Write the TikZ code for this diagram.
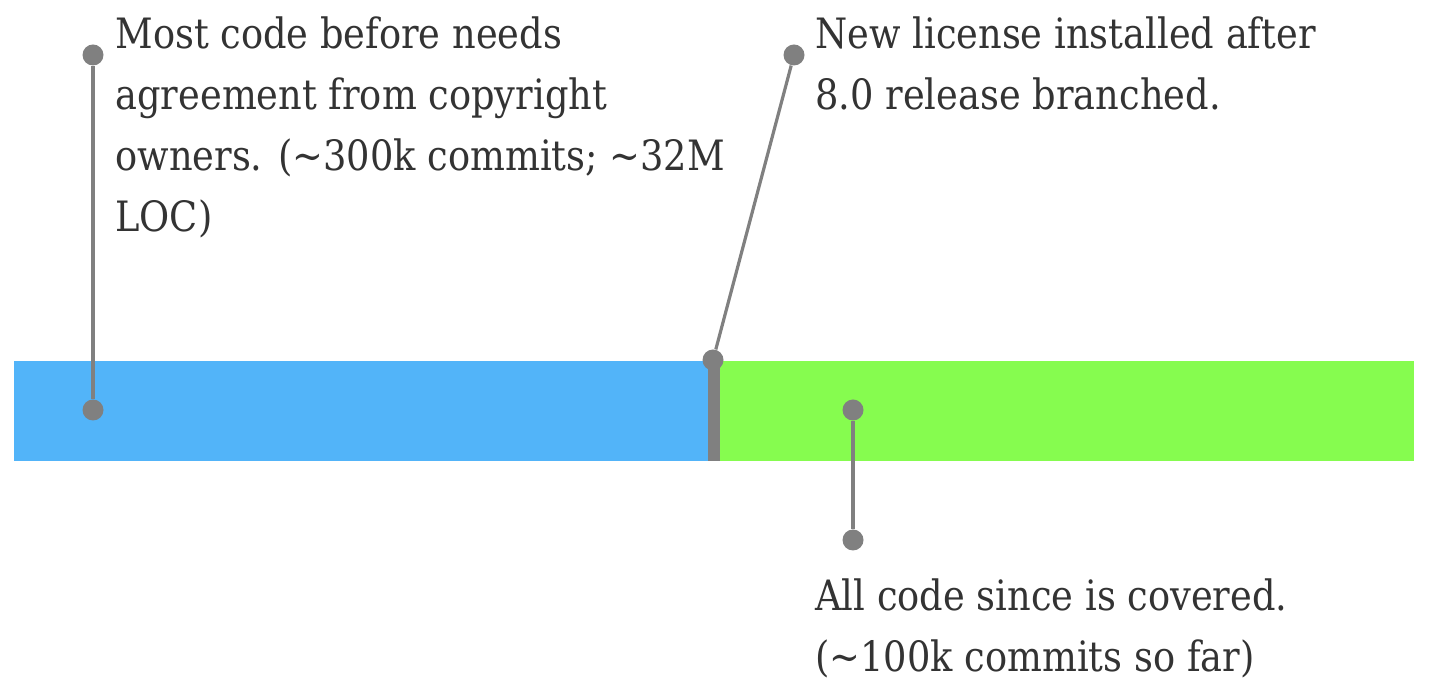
\documentclass[tikz,border=0pt]{standalone}
\usepackage{fontspec}
\setmainfont{DejaVu Serif}[FakeStretch=0.88]

\definecolor{barblue}{HTML}{52B4F9}
\definecolor{bargreen}{HTML}{86FC4F}
\definecolor{pingray}{HTML}{808080}
\definecolor{ink}{HTML}{333333}

\tikzset{
    dot/.style={circle, fill=pingray, inner sep=0pt, minimum size=10.5pt},
    stem/.style={draw=pingray, line width=1.6pt},
    note/.style={anchor=north west, inner sep=0pt, align=left, text=ink,
                 font=\fontsize{20.9}{30.5}\selectfont}
}

\begin{document}
\begin{tikzpicture}[x=0.5pt, y=-0.5pt]
    \useasboundingbox (0,0) rectangle (1436,694);

    % the two parts of the history
    \fill [barblue]  (14,361)  rectangle (708,461);
    \fill [bargreen] (720,361) rectangle (1414,461);
    \fill [pingray]  (708,361) rectangle (720,461);

    \node[dot] (before pin) at (93,410) {};
    \node[dot] (before tip) at (93,55)  {};
    \node[dot] (switch pin) at (713,360) {};
    \node[dot] (switch tip) at (794,55)  {};
    \node[dot] (after pin)  at (853,410) {};
    \node[dot] (after tip)  at (853,540) {};

    \draw [stem] (before pin) -- (before tip);
    \draw [stem] (switch pin) -- (switch tip);
    \draw [stem] (after pin)  -- (after tip);

    \node[note] (before note) at (115,16)
        {Most code before needs\\agreement from copyright\\owners. (\textasciitilde300k commits; \textasciitilde32M\\LOC)};
    \node[note] (switch note) at (815,16)
        {New license installed after\\8.0 release branched.};
    \node[note] (after note) at (815,578)
        {All code since is covered.\\(\textasciitilde100k commits so far)};
\end{tikzpicture}
\end{document}
